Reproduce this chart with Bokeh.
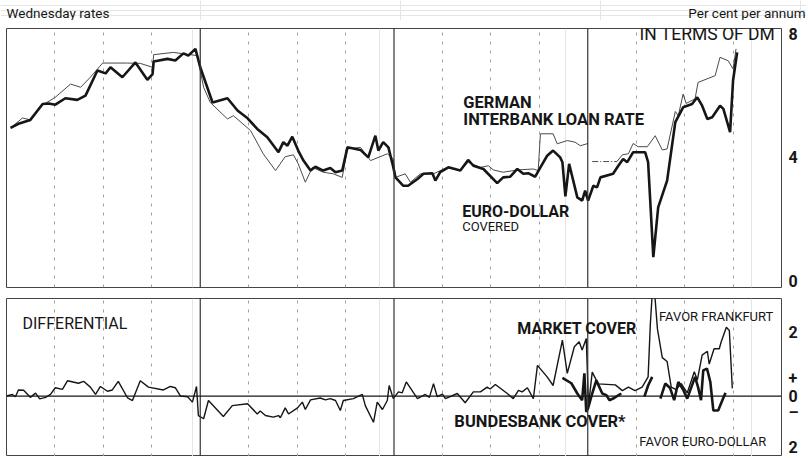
from bokeh.plotting import figure
from bokeh.models import Range1d, FixedTicker, Span, Label, Grid
from bokeh.layouts import column
from bokeh.embed import file_html
from bokeh.resources import INLINE

# ---- data (x = week number from start of chart, 52 weeks per year) ----
quarter_weeks = [13, 26, 39, 65, 78, 91, 117, 130, 143, 169, 182, 195]
year_weeks = [52, 104, 156]

# Euro-dollar rate, covered (per cent)
euro_w = [1.1, 3.2, 6.4, 9.7, 11.3, 13.1, 15.8, 19.0, 21.2, 24.4, 26.6, 27.9, 31.1, 34.6, 37.8, 39.2, 39.5,
          43.2, 45.3, 47.5, 48.8, 50.7, 52.0, 55.3, 59.3, 62.0, 64.7, 67.3, 70.0, 73.0, 74.3, 75.4, 76.7,
          78.3, 79.7, 81.6, 82.9, 85.0, 86.9, 88.3, 90.1, 91.5, 95.0, 97.1, 99.0, 99.8, 101.1, 102.5, 103.6,
          104.4, 106.5, 107.8, 110.3, 111.9, 114.3, 115.1, 116.4, 118.6, 121.8, 123.9, 125.3, 128.0, 131.7,
          133.3, 135.2, 137.1, 138.7, 140.0, 141.9, 143.3, 145.1, 146.7, 148.6, 149.2, 150.0, 151.0, 153.2,
          154.5, 155.3, 156.1, 157.5, 158.5, 159.4, 162.8, 164.2, 165.5, 166.6, 168.2, 171.4, 172.2, 173.6,
          174.9, 177.3, 179.5, 181.6, 184.0, 185.4, 186.7, 188.1, 189.4, 191.5, 192.4, 194.2, 195.0, 196.1]
euro_v = [4.89, 5.02, 5.14, 5.63, 5.65, 5.61, 5.81, 5.76, 5.89, 6.67, 6.58, 6.77, 6.46, 6.92, 6.38, 6.56, 6.95,
          7.03, 6.98, 7.20, 7.13, 7.34, 6.77, 5.68, 5.81, 5.43, 5.19, 4.86, 4.60, 4.14, 4.45, 4.34, 4.62,
          4.19, 3.88, 3.57, 3.69, 3.57, 3.65, 3.52, 3.57, 4.29, 4.21, 3.98, 4.65, 4.19, 4.45, 4.29, 3.78,
          3.36, 3.10, 3.10, 3.31, 3.47, 3.49, 3.26, 3.52, 3.67, 3.57, 3.90, 3.72, 3.62, 3.18,
          3.36, 3.38, 3.62, 3.47, 3.49, 3.38, 3.67, 4.03, 4.19, 3.98, 3.83, 2.77, 3.78, 2.74,
          2.64, 2.95, 2.64, 3.10, 3.05, 3.36, 3.47, 3.72, 3.93, 3.83, 4.14, 4.14, 3.83, 0.89,
          2.43, 3.26, 5.07, 5.53, 5.63, 5.84, 5.58, 5.17, 5.22, 5.58, 5.48, 4.76, 6.36, 7.23]

# German interbank loan rate (per cent), two reported stretches
german_a_w = [1.1, 4.3, 6.4, 9.7, 13.1, 17.2, 19.9, 22.5, 25.8, 32.5, 35.9, 39.2, 39.5, 44.8, 51.2, 52.9,
              54.7, 59.3, 60.9, 65.5, 68.9, 72.2, 74.8, 77.0, 78.3, 80.2, 82.1, 85.0, 87.7, 90.1, 91.5,
              95.0, 97.7, 102.2, 103.8, 104.4, 107.0, 108.4, 111.1, 114.6, 118.3, 121.8, 123.9, 127.2,
              129.3, 130.7, 133.3, 137.1, 141.4, 142.7, 143.3, 146.7, 147.8, 150.5, 152.6, 154.0, 156.1]
german_a_v = [4.89, 5.20, 5.14, 5.60, 5.84, 6.25, 6.15, 6.46, 6.90, 6.90, 6.89, 6.77, 7.16, 7.23, 7.13, 6.15,
              5.68, 5.17, 5.27, 4.81, 4.09, 3.57, 4.00, 4.06, 3.78, 3.21, 3.67, 3.52, 3.47, 3.36, 4.24,
              4.29, 3.88, 4.09, 3.93, 3.36, 3.47, 3.21, 3.47, 3.47, 3.67, 3.57, 3.83, 3.67,
              3.72, 3.59, 3.52, 3.59, 3.62, 3.57, 4.71, 4.71, 4.40, 4.50, 4.45, 4.34, 4.41]
german_gap_w = [157.2, 163.9]
german_gap_v = [3.85, 3.85]
german_b_w = [163.9, 165.3, 166.9, 168.2, 169.5, 172.0, 174.1, 176.0, 177.3, 179.5, 180.3, 181.6, 182.4,
              184.8, 185.6, 190.2, 191.5, 193.7, 195.0, 195.8]
german_b_v = [3.86, 4.06, 4.09, 4.41, 4.31, 4.31, 4.65, 4.21, 4.24, 5.40, 5.27, 5.94, 5.65,
              5.79, 6.30, 6.51, 7.08, 6.97, 6.72, 7.34]

# Differential, market cover (percentage points)
market_w = [0.0, 1.6, 2.4, 3.2, 4.6, 6.4, 7.8, 8.9, 10.5, 11.8, 13.1, 15.0, 16.4, 19.3, 20.7, 22.5, 23.9,
            25.2, 27.1, 28.4, 30.0, 32.5, 33.8, 35.9, 38.1, 42.1, 44.0, 45.3, 46.7, 48.6, 49.9, 51.0, 51.5,
            52.9, 54.2, 58.2, 60.6, 64.7, 67.3, 68.1, 69.5, 71.6, 73.0, 73.5, 74.8, 75.7, 78.1, 79.4, 80.2,
            81.6, 84.2, 85.6, 86.9, 88.3, 89.6, 90.4, 93.1, 95.5, 96.3, 98.5, 99.5, 100.9, 102.2, 102.7,
            103.8, 105.2, 106.2, 107.3, 110.3, 112.4, 113.5, 114.6, 115.6, 117.0, 117.8, 121.0, 123.1,
            125.3, 127.2, 129.0, 129.8, 131.2, 134.4, 136.0, 137.4, 138.4, 139.8, 141.4, 142.5, 145.1,
            146.7, 149.2, 150.5, 152.4, 153.7, 154.5, 155.6, 156.2, 157.2, 158.8, 163.4, 165.3, 166.9,
            168.7, 170.6, 172.2, 172.8, 173.6, 174.7, 176.0, 177.3, 178.4, 179.7, 181.1, 182.7, 184.6,
            185.4, 186.7, 188.1, 188.6, 189.9, 191.3, 191.8, 193.2, 194.0, 194.8]
market_v = [0.00, 0.05, -0.02, 0.19, 0.18, -0.04, 0.09, -0.09, -0.04, 0.05, 0.26, 0.21, 0.48, 0.40, 0.46, 0.28, 0.05,
            0.30, 0.15, 0.19, 0.46, -0.06, -0.14, 0.48, 0.28, 0.19, 0.30, 0.26, 0.00, -0.02, -0.19, 0.30, -0.61,
            -0.71, -0.14, -0.64, -0.30, -0.24, -0.56, -0.47, -0.61, -0.66, -0.61, -0.68, -0.37, -0.56, -0.37, -0.19, -0.42,
            -0.12, -0.06, -0.12, -0.08, -0.14, -0.45, -0.14, -0.08, 0.05, -0.30, -0.82, -0.19, -0.42, -0.14, 0.33,
            -0.08, 0.13, 0.10, 0.44, -0.08, 0.05, -0.04, 0.39, -0.02, 0.06, -0.08, 0.08, -0.21,
            0.13, 0.13, 0.28, 0.22, 0.36, 0.08, -0.08, 0.18, 0.13, 0.26, -0.08, 0.96, 0.60,
            0.33, 1.75, 0.71, 1.54, 1.70, 1.44, 1.80, -0.30, 0.75, 0.38, 0.35, 0.17, 0.28,
            0.17, 0.28, 0.60, 2.25, 3.76, 2.10, 1.20, 1.08, 0.28, 0.20, 0.39, 0.10, 0.76,
            0.50, 1.28, 1.40, 1.00, 1.48, 1.48, 1.69, 2.15, 2.05, 0.24]

# Differential, Bundesbank cover (three reported stretches)
bbank_a_w = [149.2, 151.6, 153.2, 154.5, 155.1, 155.6, 156.1, 157.2, 158.3, 159.9, 161.0, 161.8, 163.1, 165.0]
bbank_a_v = [0.57, 0.40, 0.08, -0.13, 0.71, -0.50, -0.38, 0.08, 0.49, 0.08, 0.03, -0.13, -0.06, 0.08]
bbank_b_w = [171.2, 172.2, 173.3]
bbank_b_v = [-0.02, 0.33, 0.60]
bbank_c_w = [175.5, 176.8, 178.1, 179.2, 180.3, 181.6, 182.7, 184.8, 185.6, 186.4, 187.0, 188.0, 188.9,
             189.7, 191.0, 192.4, 193.0]
bbank_c_v = [-0.08, 0.39, 0.25, -0.13, 0.44, 0.20, -0.08, 0.60, 0.28, -0.13, 0.80, 0.86, 0.44,
             -0.45, -0.45, -0.05, 0.10]

upper_ticks = [0.15, 4, 7.8]
upper_tick_labels = {0.15: "0", 4: "4", 7.8: "8"}
lower_ticks = [2, 0.55, 0, -0.5, -1.85]
lower_tick_labels = {2: "2", 0.55: "+", 0: "0", -0.5: "–", -1.85: "2"}

FONT = "Roboto"
INK = "#161616"
W = 806


def base_fig(height, yr, top, bottom):
    p = figure(width=W, height=height, x_range=Range1d(0, 208), y_range=Range1d(*yr),
               output_backend="svg", toolbar_location=None, x_axis_location=None,
               y_axis_location="right", min_border_left=6, min_border_right=25,
               min_border_top=top, min_border_bottom=bottom, title=None)
    p.ygrid.grid_line_color = None
    p.outline_line_color = "#444444"
    p.outline_line_width = 1
    ax = p.yaxis[0]
    ax.axis_line_color = None
    ax.major_tick_line_color = None
    ax.minor_tick_line_color = None
    ax.major_tick_in = 0
    ax.major_tick_out = 0
    ax.minor_tick_in = 0
    ax.minor_tick_out = 0
    ax.major_label_standoff = 7
    ax.major_label_text_font = FONT
    ax.major_label_text_font_style = "bold"
    ax.major_label_text_font_size = "16px"
    ax.major_label_text_color = INK
    g = Grid(dimension=0, ticker=FixedTicker(ticks=quarter_weeks), grid_line_color="#a0a0a0",
             grid_line_dash="3 6", grid_line_width=1)
    p.add_layout(g)
    for yw in year_weeks:
        p.add_layout(Span(location=yw, dimension="height", line_color="#333333", line_width=1.2))
    return p


def lab(p, x, y, text, size, bold=False, align="left"):
    p.add_layout(Label(x=x, y=y, text=text, text_font=FONT, text_font_size=size,
                       text_font_style="bold" if bold else "normal", text_align=align,
                       text_baseline="middle", text_color=INK))


# ---- header strip (texts above the upper panel) ----
p0 = figure(width=W, height=20, x_range=Range1d(0, W), y_range=Range1d(0, 20),
            output_backend="svg", toolbar_location=None, x_axis_location=None,
            y_axis_location=None, min_border_left=0, min_border_right=0,
            min_border_top=0, min_border_bottom=0, title=None)
p0.outline_line_color = None
lab(p0, 6, 8, "Wednesday rates", "13.5px")
lab(p0, 805, 8, "Per cent per annum", "13.5px", align="right")

# ---- upper panel ----
p1 = base_fig(272, (-0.05, 7.97), 8, 5)
p1.yaxis[0].ticker = FixedTicker(ticks=upper_ticks)
p1.yaxis[0].major_label_overrides = upper_tick_labels

p1.line(german_a_w, german_a_v, line_width=1, line_color="#4a4a4a")
p1.line(german_gap_w, german_gap_v, line_width=1, line_color="#4a4a4a", line_dash="6 2 1 2")
p1.line(german_b_w, german_b_v, line_width=1, line_color="#4a4a4a")
p1.line(euro_w, euro_v, line_width=2.6, line_color=INK)

lab(p1, 206.3, 7.81, "IN TERMS OF DM", "17.5px", align="right")
lab(p1, 122.6, 5.67, "GERMAN", "16.5px", bold=True)
lab(p1, 122.6, 5.15, "INTERBANK LOAN RATE", "16.5px", bold=True)
lab(p1, 122.3, 2.30, "EURO-DOLLAR", "16px", bold=True)
lab(p1, 122.3, 1.84, "COVERED", "13px")

# ---- lower panel ----
p2 = base_fig(164, (-1.89, 3.05), 6, 0)
p2.yaxis[0].ticker = FixedTicker(ticks=lower_ticks)
p2.yaxis[0].major_label_overrides = lower_tick_labels
p2.add_layout(Span(location=0, dimension="width", line_color=INK, line_width=1.3))

p2.line(market_w, market_v, line_width=1.4, line_color=INK)
for bw, bv in ((bbank_a_w, bbank_a_v), (bbank_b_w, bbank_b_v), (bbank_c_w, bbank_c_v)):
    p2.line(bw, bv, line_width=2.6, line_color=INK)

lab(p2, 4.3, 2.27, "DIFFERENTIAL", "16px")
lab(p2, 137.1, 2.11, "MARKET COVER", "16px", bold=True)
lab(p2, 205.8, 2.48, "FAVOR FRANKFURT", "13px", align="right")
lab(p2, 120.2, -0.80, "BUNDESBANK COVER*", "16.5px", bold=True)
lab(p2, 203.9, -1.42, "FAVOR EURO-DOLLAR", "13px", align="right")

layout = column(p0, column(p1, p2))
open("out.html", "w").write(file_html(layout, INLINE))
